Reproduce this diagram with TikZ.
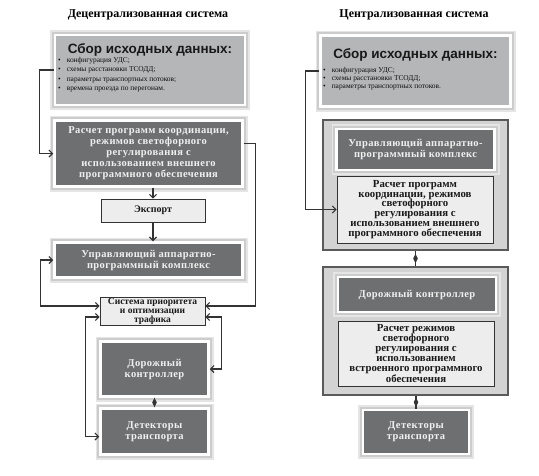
\documentclass[tikz,border=0pt]{standalone}
\usepackage{fontspec}
\setmainfont{Liberation Serif}
\newfontfamily\headfont{Liberation Sans}
\newfontfamily\spacedfont[LetterSpace=4]{Liberation Serif}
\usepackage{tikz}
\usetikzlibrary{shapes.geometric, arrows.meta, positioning}
\usepackage{xcolor}
\definecolor{boxdark}{HTML}{6D6F71}
\definecolor{sborgrey}{HTML}{B4B6B8}
\definecolor{framegrey}{HTML}{D3D3D3}
\definecolor{boxlight}{HTML}{EDEDED}
\definecolor{linedark}{HTML}{333333}
\definecolor{framedark}{HTML}{5A5A5A}
\tikzset{
	halo/.style={preaction={draw=black!10, line width=10pt}, preaction={draw=black!20, line width=6.5pt}},
	darkbox/.style={halo, fill=boxdark, draw=white, line width=2.5pt, text=white!94!black, align=center, inner sep=0pt,
		font=\spacedfont\bfseries\fontsize{10.5}{11}\selectfont},
	sborbox/.style={halo, fill=sborgrey, draw=white, line width=2.5pt},
	lightbox/.style={fill=boxlight, draw=linedark, line width=0.8pt, align=center, inner sep=0pt, text=black!90,
		font=\bfseries\fontsize{10.8}{9.8}\selectfont},
	framebox/.style={fill=framegrey, draw=framedark, line width=1.2pt},
	heading/.style={font=\headfont\bfseries\fontsize{13.5}{14}\selectfont, text=black!90},
	itemlist/.style={align=left, inner sep=0pt, font=\fontsize{7.4}{9.5}\selectfont, text=black!95},
	title/.style={font=\bfseries\fontsize{12}{13}\selectfont},
	link/.style={draw=linedark, line width=1.1pt, -{Straight Barb[length=3.5pt, width=7pt]}},
	dlink/.style={link, {Straight Barb[length=3.5pt, width=7pt]}-{Straight Barb[length=3.5pt, width=7pt]}},
	joint/.style={draw=linedark, line width=1.1pt},
	diam/.style={diamond, fill=linedark, inner sep=0pt, minimum width=5pt, minimum height=10pt}
}

\begin{document}
\begin{tikzpicture}[x=1pt, y=-1pt]
	\useasboundingbox (0,0) rectangle (539,475);

	% Decentralized system
	\node[title] (titleL) at (148,15) {Децентрализованная система};

	\node[sborbox, minimum width=190, minimum height=70] (sbor1) at (150,70) {};
	\node[heading] at (150,50) {Сбор исходных данных:};
	\node[itemlist, anchor=north west] at (58,57) {%
		\textbullet\hspace{6pt}конфигурация УДС;\\
		\textbullet\hspace{6pt}схемы расстановки ТСОДД;\\
		\textbullet\hspace{6pt}параметры транспортных потоков;\\
		\textbullet\hspace{6pt}времена проезда по перегонам.};

	\node[darkbox, minimum width=188, minimum height=66] (rasch1) at (148.5,153.5)
		{Расчет программ координации,\\режимов светофорного\\регулирования с\\использованием внешнего\\программного обеспечения};
	\node[lightbox, minimum width=104, minimum height=23, font=\bfseries\fontsize{10}{11}\selectfont] (export) at (153,210.5) {Экспорт};
	\node[darkbox, minimum width=188, minimum height=35] (upr1) at (148.5,260)
		{Управляющий аппаратно-\\программный комплекс};
	\node[lightbox, minimum width=105, minimum height=28, font=\bfseries\fontsize{9.5}{9}\selectfont] (sys) at (152.5,311)
		{Система приоритета\\и оптимизации\\трафика};
	\node[darkbox, minimum width=108, minimum height=55] (dor1) at (154.5,369) {Дорожный\\контроллер};
	\node[darkbox, minimum width=108, minimum height=46] (det1) at (154.5,431.5) {Детекторы\\транспорта};

	% Arrows
	\draw[link] (sbor1.west) -- ++(-14,0) |- (rasch1.west);
	\draw[link] (export.north |- rasch1.south) -- (export.north);
	\draw[link] (export.south) -- (export.south |- upr1.north);
	\draw[link] ([yshift=10pt]rasch1.east) -- ++(12,0) |- ([yshift=5pt]sys.east);
	\draw[dlink] ([yshift=5pt]sys.west) -- ++(-59,0) |- (upr1.west);
	\draw[dlink] ([yshift=-6pt]sys.west) -- ++(-14,0) |- ([yshift=-5pt]det1.west);
	\draw[dlink] ([yshift=-6pt]sys.east) -- ++(16,0) |- (dor1.east);
	\draw[joint] (dor1.south) -- (det1.north) node[diam, midway] (j1) {};

	% Centralized system
	\node[title] (titleR) at (414,15) {Централизованная система};

	\node[sborbox, minimum width=190, minimum height=71] (sbor2) at (415.5,71) {};
	\node[heading] at (415.5,55) {Сбор исходных данных:};
	\node[itemlist, anchor=north west, font=\fontsize{7.4}{8.2}\selectfont] at (323,67) {%
		\textbullet\hspace{6pt}конфигурация УДС;\\
		\textbullet\hspace{6pt}схемы расстановки ТСОДД;\\
		\textbullet\hspace{6pt}параметры транспортных потоков.};

	\node[framebox, minimum width=185, minimum height=130] (cont1) at (415.5,185) {};
	\node[darkbox, minimum width=158, minimum height=41] (upr2) at (415.5,149.5)
		{Управляющий аппаратно-\\программный комплекс};
	\node[lightbox, minimum width=156, minimum height=67] (rasch2) at (415,209.5)
		{Расчет программ\\координации, режимов\\светофорного\\регулирования с\\использованием внешнего\\программного обеспечения};

	\node[framebox, minimum width=185, minimum height=128] (cont2) at (415.5,331) {};
	\node[darkbox, minimum width=158, minimum height=35] (dor2) at (417,294.5) {Дорожный контроллер};
	\node[lightbox, minimum width=156, minimum height=65] (rezh2) at (416,353.5)
		{Расчет режимов\\светофорного\\регулирования с\\использованием\\встроенного программного\\обеспечения};

	\node[darkbox, minimum width=106, minimum height=44] (det2) at (416,432) {Детекторы\\транспорта};

	% Arrows
	\draw[link] (sbor2.west) -- ++(-14,0) |- (rasch2.west);
	\draw[joint] (cont1.south) -- (cont1.south |- cont2.north) node[diam, midway] (j2) {};
	\draw[joint] (det2.north |- cont2.south) -- (det2.north) node[diam, midway] (j3) {};
\end{tikzpicture}
\end{document}
